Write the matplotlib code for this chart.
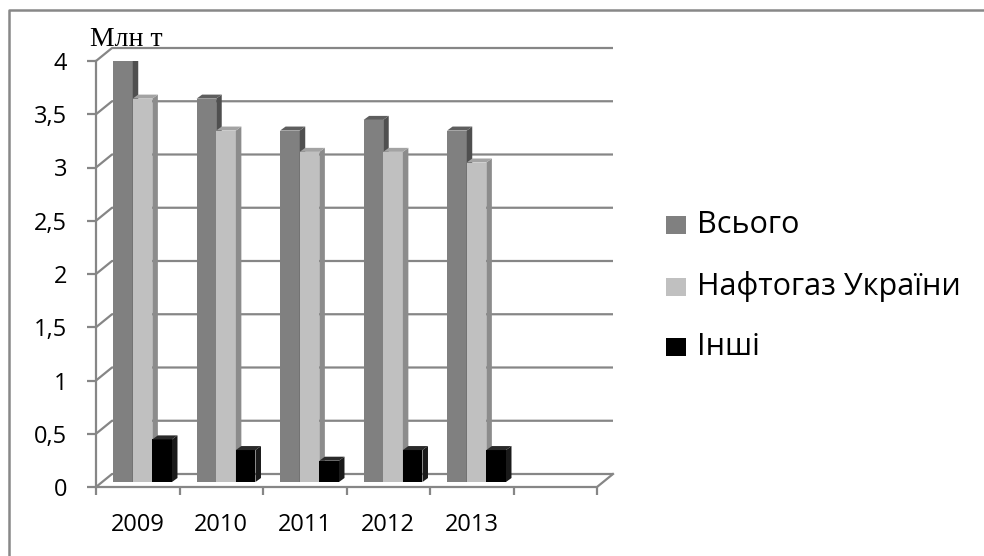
import matplotlib.pyplot as plt
from matplotlib.patches import Rectangle, Polygon
from matplotlib.lines import Line2D

# дані
years = ["2009", "2010", "2011", "2012", "2013"]
series_names = ["Всього", "Нафтогаз України", "Інші"]
vsogo = [4.0, 3.6, 3.3, 3.4, 3.3]
naftogaz = [3.6, 3.3, 3.1, 3.1, 3.0]
inshi = [0.4, 0.3, 0.2, 0.3, 0.3]
yticks = [0, 0.5, 1, 1.5, 2, 2.5, 3, 3.5, 4]
ytick_labels = ["0", "0,5", "1", "1,5", "2", "2,5", "3", "3,5", "4"]

series = [vsogo, naftogaz, inshi]
face = ["#808080", "#c0c0c0", "#000000"]
side = ["#4f4f4f", "#8c8c8c", "#1a1a1a"]
top = ["#5e5e5e", "#a3a3a3", "#2a2a2a"]
grid_c = "#868686"

W, H = 984, 556
fig = plt.figure(figsize=(W / 100, H / 100), dpi=100)
ax = fig.add_axes([96 / W, (H - 487) / H, (597 - 96) / W, (487 - 61) / H])
nslots = 6
ax.set_xlim(0, nslots)
ax.set_ylim(0, 4)
for s in ax.spines.values():
    s.set_visible(False)

# глибина 3D (у одиницях даних)
DX, DY = 16 / 83.5, 13 / 106.5
sx, sy = 5.5 / 83.5, 4 / 106.5
base = 5 / 106.5
off, w = 0.205, 0.235

# стінки і сітка
for v in yticks:
    ax.plot([0, DX, nslots + DX], [v, v + DY, v + DY], color=grid_c, lw=1.6, zorder=1,
            clip_on=False, solid_capstyle="butt")
ax.plot([0, nslots, nslots + DX], [0, 0, DY], color=grid_c, lw=1.6, zorder=1, clip_on=False)
ax.plot([0, 0], [0, 4], color=grid_c, lw=1.6, zorder=1, clip_on=False)

# стовпчики
for i in range(len(years)):
    for j, vals in enumerate(series):
        v = vals[i]
        x = i + off + j * w
        ax.add_patch(Rectangle((x, base), w, v, facecolor=face[j], edgecolor="none", zorder=3 + j))
        ax.add_patch(Polygon([(x + w, base), (x + w + sx, base + sy), (x + w + sx, base + v + sy),
                              (x + w, base + v)], closed=True, facecolor=side[j], edgecolor="none",
                             zorder=3 + j))
        ax.add_patch(Polygon([(x, base + v), (x + sx, base + v + sy), (x + w + sx, base + v + sy),
                              (x + w, base + v)], closed=True, facecolor=top[j], edgecolor="none",
                             zorder=3 + j))

# осі
ax.set_yticks(yticks)
ax.set_yticklabels(ytick_labels, fontsize=17, family="Open Sans")
ax.tick_params(axis="y", direction="out", length=6.5, width=1.6, color=grid_c, pad=14.4)
ax.set_xticks(range(nslots + 1))
ax.set_xticklabels([])
ax.set_xticks([i + 0.5 for i in range(len(years))], minor=True)
ax.set_xticklabels(years, minor=True, fontsize=17, family="Open Sans")
ax.tick_params(axis="x", which="major", direction="out", length=6, width=1.6, color=grid_c)
ax.tick_params(axis="x", which="minor", length=0, pad=19)

fig.text(90 / W, 1 - 46 / H, "Млн т", family="Liberation Serif", fontsize=20, va="baseline")

# легенда
ly = [225, 287, 347]
for j, name in enumerate(series_names):
    fig.patches.append(Rectangle((666 / W, 1 - (ly[j] + 9) / H), 20 / W, 18 / H,
                                 facecolor=face[j], edgecolor="none", transform=fig.transFigure))
    fig.text(697 / W, 1 - ly[j] / H, name, family="Open Sans", fontsize=22, va="center")

# рамка
fig.lines.append(Line2D([8.5 / W, 8.5 / W, 1], [0, 1 - 9.5 / H, 1 - 9.5 / H], color="#888888",
                        lw=1.8, transform=fig.transFigure))

fig.savefig("out.png", dpi=100)
